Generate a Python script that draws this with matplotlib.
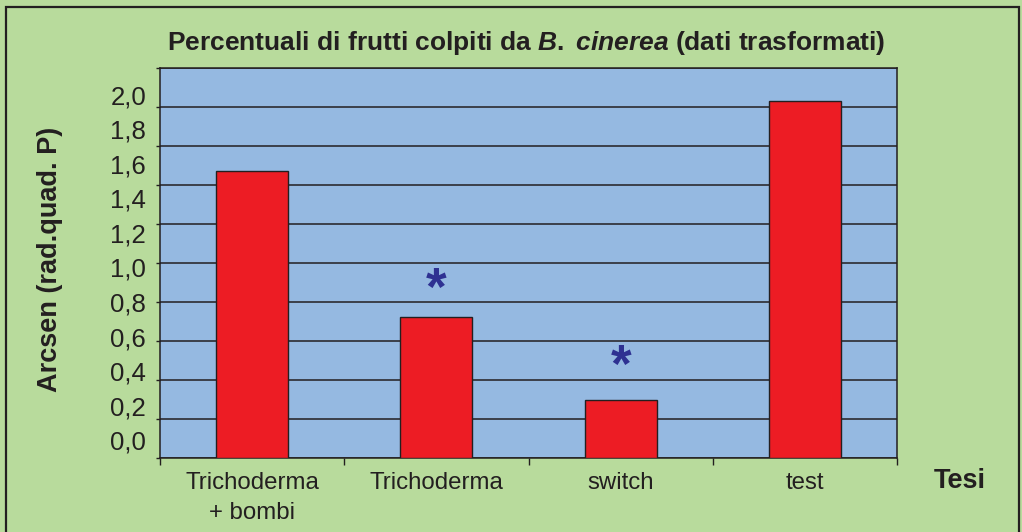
import matplotlib
matplotlib.use("Agg")
import matplotlib.pyplot as plt
from matplotlib.patches import Rectangle
import numpy as np

# ---- data ----
categories = ["Trichoderma\n+ bombi", "Trichoderma", "switch", "test"]
values = [1.47, 0.725, 0.295, 1.83]
asterisk_level = [None, 0.918, 0.523, None]
ytick_values = [0.0, 0.2, 0.4, 0.6, 0.8, 1.0, 1.2, 1.4, 1.6, 1.8, 2.0]
ytick_labels = ["0,0", "0,2", "0,4", "0,6", "0,8", "1,0", "1,2", "1,4", "1,6", "1,8", "2,0"]

GREEN = "#B8DB9C"
BLUE = "#95B9E1"
RED = "#ED1C24"
DARK = "#231F20"
STAR = "#2E3192"

plt.rcParams['font.family'] = ['Liberation Sans', 'DejaVu Sans']
plt.rcParams['mathtext.fontset'] = 'custom'
plt.rcParams['mathtext.it'] = 'Liberation Sans:bold:italic'
plt.rcParams['mathtext.rm'] = 'Liberation Sans:bold'
plt.rcParams['mathtext.bf'] = 'Liberation Sans:bold'

W, H = 1022, 532
fig = plt.figure(figsize=(W / 100, H / 100), dpi=100)
fig.patch.set_facecolor(GREEN)

# outer frame
fig.add_artist(Rectangle((6 / W, -0.05), (1019 - 6) / W, 1.05 - 7 / H,
                         transform=fig.transFigure, fill=False,
                         edgecolor=DARK, linewidth=1.6))

ax = fig.add_axes([160 / W, 1 - 458 / H, (897 - 160) / W, (458 - 68) / H])
ax.set_facecolor(BLUE)

x = np.arange(len(categories))
ax.bar(x, values, width=0.39, color=RED, edgecolor=DARK, linewidth=1.0, zorder=3)

for i, lvl in enumerate(asterisk_level):
    if lvl is not None:
        ax.annotate("*", xy=(x[i], lvl), xytext=(0, -8.5), textcoords="offset points",
                    ha="center", va="center", fontsize=38,
                    fontweight="bold", color=STAR, zorder=4)

ax.set_xlim(-0.5, len(categories) - 0.5)
ax.set_ylim(0, 2.0)

# gridlines / tick marks at data positions
ax.set_yticks(ytick_values)
ax.set_yticklabels([])
ax.tick_params(axis="y", length=3, width=1, color=DARK, direction="out")
ax.yaxis.grid(True, color=DARK, linewidth=1.1, zorder=1)
ax.set_axisbelow(True)

# tick labels (rendered with the reference's offset scale)
off, scl = 0.092, 0.885
sec = ax.secondary_yaxis("left", functions=(lambda y: (y - off) / scl,
                                            lambda v: v * scl + off))
sec.set_yticks(ytick_values)
sec.set_yticklabels(ytick_labels, fontsize=18.5, color=DARK)
sec.tick_params(axis="y", length=0, pad=10)
sec.spines["left"].set_visible(False)

ax.set_xticks(x)
ax.set_xticklabels(categories, fontsize=17.3, color=DARK, linespacing=1.47)
ax.set_xticks(np.arange(-0.5, len(categories), 1.0), minor=True)
ax.tick_params(axis="x", which="major", length=0, pad=10)
ax.tick_params(axis="x", which="minor", length=5, width=1, color=DARK)

for s in ax.spines.values():
    s.set_color(DARK)
    s.set_linewidth(1.1)

fig.text(526 / W, 1 - 43 / H,
         "Percentuali di frutti colpiti da $\\it{B.\\;cinerea}$ (dati trasformati)",
         ha="center", va="center", fontsize=19, fontweight="bold", color=DARK)
fig.text(50 / W, 1 - 259 / H, "Arcsen (rad.quad. P)", rotation=90,
         ha="center", va="center", fontsize=19.5, fontweight="bold", color=DARK)
fig.text(960 / W, 1 - 481 / H, "Tesi", ha="center", va="center",
         fontsize=19.5, fontweight="bold", color=DARK)

fig.savefig("out.png", dpi=100, facecolor=GREEN)
